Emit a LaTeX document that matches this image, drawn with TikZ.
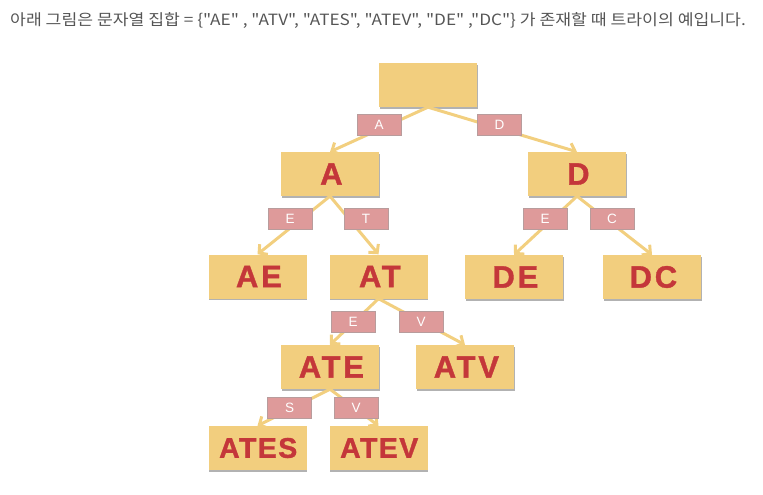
\documentclass[tikz,border=0pt]{standalone}
\usepackage{fontspec}
\usetikzlibrary{arrows.meta,shadows}
\newfontfamily\krfont{Noto Sans CJK KR}
\newfontfamily\boxfont[LetterSpace=9,BoldFeatures={FakeBold=1.2}]{Liberation Sans}
\newfontfamily\boxfontn[LetterSpace=5,BoldFeatures={FakeBold=1.2}]{Liberation Sans}
\newfontfamily\labfont{Liberation Sans}
\definecolor{boxfill}{HTML}{F2CE7E}
\definecolor{boxtext}{HTML}{C4373A}
\definecolor{edgecol}{HTML}{F2CF7F}
\definecolor{labfill}{HTML}{DE9A9A}
\definecolor{labline}{HTML}{B89C9C}
\definecolor{titlecol}{HTML}{555555}
\tikzset{
  trienode/.style={fill=boxfill, minimum width=98pt, minimum height=44pt, inner sep=0pt,
    text=boxtext, font=\boxfont\bfseries\fontsize{31}{31}\selectfont,
    drop shadow={shadow xshift=0.6pt, shadow yshift=-1.6pt, fill=black!60, opacity=0.5}},
  longnode/.style={trienode, font=\boxfontn\bfseries\fontsize{28.5}{28.5}\selectfont},
  edgelab/.style={fill=labfill, draw=labline, line width=0.5pt, minimum width=44pt, minimum height=21pt,
    inner sep=0pt, text=white, font=\labfont\fontsize{13.5}{13.5}\selectfont},
  trieedge/.style={draw=edgecol, line width=3pt,
    -{Straight Barb[length=6pt,width=13pt,line width=3pt]}}
}
\begin{document}
\begin{tikzpicture}[x=1pt,y=-1pt]
\useasboundingbox (0,0) rectangle (763,495);
\node[anchor=west, text=titlecol, inner sep=0pt, font=\krfont\fontsize{15.5}{15.5}\selectfont] (title) at (10,20)
  {\scalebox{1.11}[1]{아래 그림은 문자열 집합 = \{"AE" , "ATV", "ATES", "ATEV", "DE" ,"DC"\} 가 존재할 때 트라이의 예입니다.}};
% nodes
\node[trienode] (root) at (428,85) {};
\node[trienode] (A) at (330,174) {A\kern-0.09em};
\node[trienode] (D) at (577,174) {D\kern-0.09em};
\node[trienode] (AE) at (257.5,276.5) {AE\kern-0.09em};
\node[trienode] (AT) at (378.5,276.5) {AT\kern-0.09em};
\node[trienode] (DE) at (514,277) {DE\kern-0.09em};
\node[trienode] (DC) at (652,277) {DC\kern-0.09em};
\node[trienode] (ATE) at (330,367) {ATE\kern-0.09em};
\node[trienode] (ATV) at (465,367) {ATV\kern-0.09em};
\node[longnode] (ATES) at (257.5,448) {ATES\kern-0.05em};
\node[longnode] (ATEV) at (378.5,448) {ATEV\kern-0.05em};
% edges
\draw[trieedge] (root.south) -- (A.north);
\draw[trieedge] (root.south) -- (D.north);
\draw[trieedge] (A.south) -- (AE.north);
\draw[trieedge] (A.south) -- (AT.north);
\draw[trieedge] (D.south) -- (DE.north);
\draw[trieedge] (D.south) -- (DC.north);
\draw[trieedge] (AT.south) -- (ATE.north);
\draw[trieedge] (AT.south) -- (ATV.north);
\draw[trieedge] (ATE.south) -- (ATES.north);
\draw[trieedge] (ATE.south) -- (ATEV.north);
% edge labels
\node[edgelab] (lA) at (379,125) {A};
\node[edgelab] (lD) at (499.5,125) {D};
\node[edgelab] (lAE) at (290,218.5) {E};
\node[edgelab] (lAT) at (366,218.5) {T};
\node[edgelab] (lDE) at (545,219) {E};
\node[edgelab] (lDC) at (612,219) {C};
\node[edgelab] (lATE) at (353,322) {E};
\node[edgelab] (lATV) at (421,322) {V};
\node[edgelab] (lATES) at (289.5,408) {S};
\node[edgelab] (lATEV) at (356,408) {V};
\end{tikzpicture}
\end{document}
